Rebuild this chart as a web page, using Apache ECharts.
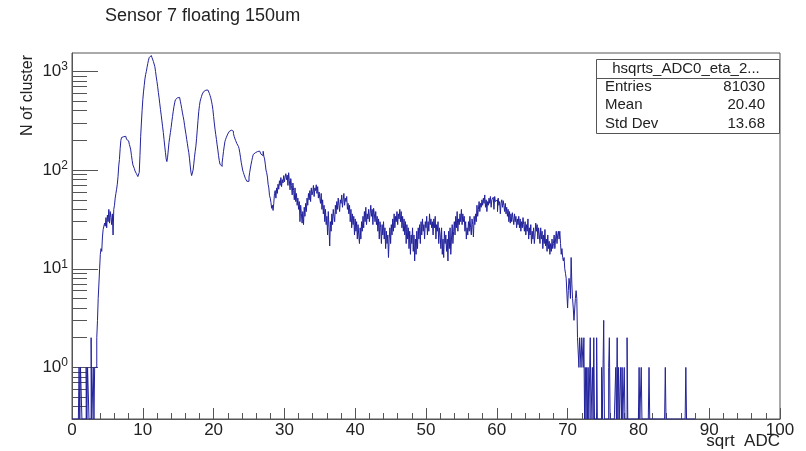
<!DOCTYPE html>
<html>
<head>
<meta charset="utf-8">
<script src="https://cdn.jsdelivr.net/npm/echarts@6/dist/echarts.min.js"></script>
<style>
html,body{margin:0;padding:0;background:#ffffff;}
#chart{width:806px;height:451px;}
</style>
</head>
<body>
<div id="chart"></div>
<script>
// ---- Histogram data (bin width 0.1 in sqrt ADC, starting at 0) ----
const BIN_START = 0;
const BIN_WIDTH = 0.1;

const counts_0_10 = [
  0,0,0,0,0,0,0,0,0,0,
  1,0,1,1,0,0,0,0,0,0,
  1,0,1,1,0,0,0,2,0,0,
  1,0,1,1,1,2,3,5,7,10,
  14,16,15,21,25,24,29,27,33,26,
  35,30,40,29,38,33,28,36,22,40,
  44,52,58,64,72,86,110,128,165,200,
  214,222,218,226,215,220,210,205,212,198,
  195,182,172,160,140,125,113,110,104,98,
  96,92,90,86,84,95,140,220,300,400
];
const counts_10_20 = [
  516,620,720,840,930,1000,1100,1200,1300,1380,
  1440,1450,1420,1380,1320,1260,1210,1120,1000,880,
  790,700,610,540,470,410,360,315,275,240,
  204,175,150,130,122,135,160,190,215,240,
  270,310,350,395,440,480,516,530,540,548,
  550,545,530,500,460,420,380,350,320,285,
  255,230,205,185,165,150,130,110,95,88,
  92,100,115,135,155,175,210,260,320,390,
  450,500,530,560,590,610,625,640,645,650,
  655,648,640,620,600,570,540,500,460,410
];
const counts_20_30 = [
  350,300,260,230,205,180,160,140,125,115,
  110,109,118,135,155,175,195,205,215,225,
  232,240,246,250,254,258,255,248,235,220,
  210,200,195,185,180,174,165,150,135,120,
  110,100,95,90,86,82,79,77,78,77,
  85,95,105,115,125,135,144,148,150,152,
  150,154,155,148,156,150,155,145,150,140,
  155,138,130,115,100,94,85,72,66,55,
  52,47,41,44,39,46,58,62,52,66,
  58,72,64,78,70,84,68,80,74,88
];
const counts_30_40 = [
  76,85,92,80,89,70,94,78,63,82,
  70,56,74,62,50,66,48,58,44,52,
  40,48,30,44,36,29,38,28,42,34,
  46,38,52,44,58,50,62,48,66,56,
  60,70,54,66,62,71,58,68,52,60,
  52,46,58,40,50,36,44,30,40,28,
  34,22,38,26,17,30,24,36,28,40,
  34,30,44,36,48,40,52,44,38,50,
  46,56,42,50,58,44,52,48,54,40,
  46,36,44,30,40,26,36,28,34,22
];
const counts_40_50 = [
  32,24,30,20,28,22,18,26,20,30,
  24,34,26,38,30,42,28,36,32,40,
  30,36,44,34,40,28,41,36,30,38,
  28,34,24,32,20,30,26,18,28,22,
  30,20,26,16,24,18,22,13,20,26,
  18,28,22,32,24,36,26,34,30,38,
  28,36,32,40,30,38,26,34,24,32,
  22,30,18,28,20,26,16,24,14,22,
  18,26,15,22,12,20,14,24,16,26,
  20,28,18,30,22,32,24,28,20,30
];
const counts_50_60 = [
  26,34,22,30,24,36,28,32,26,30,
  22,32,26,34,20,28,24,30,18,26,
  22,16,26,14,20,13,24,18,22,15,
  20,12,24,16,26,14,20,28,18,24,
  30,22,34,26,38,24,32,28,36,30,
  40,28,36,30,34,24,30,20,26,22,
  30,24,34,26,22,32,28,21,34,28,
  36,30,44,34,40,48,38,46,42,50,
  44,52,46,56,42,50,38,48,44,52,
  46,54,42,50,48,53,40,54,48,46
];
const counts_60_70 = [
  50,38,52,44,48,36,46,50,42,49,
  44,38,46,36,42,34,40,30,38,29,
  36,30,37,32,28,36,30,34,26,32,
  28,34,26,32,24,30,26,33,28,24,
  30,22,28,24,32,20,26,22,28,18,
  24,20,26,18,22,29,24,28,20,26,
  22,18,26,20,24,16,22,18,25,17,
  20,15,22,16,19,14,18,15,20,16,
  18,22,16,20,24,18,22,24,20,24,
  18,14,16,13,12,13,10,9,8,8
];
const counts_70_80 = [
  4,6,8,7,5,13,7,5,4,3,
  3,5,6,5,2,2,1,2,2,1,
  2,2,1,2,0,1,0,1,0,1,
  0,0,2,0,0,1,0,2,0,0,
  0,2,0,0,0,0,0,0,1,0,
  0,3,0,0,0,0,0,0,1,2,
  0,0,0,0,0,0,0,0,1,0,
  2,0,1,0,0,1,0,1,0,0,
  1,0,0,0,2,0,0,0,0,0,
  0,0,0,0,0,0,0,0,0,0
];
const counts_80_88 = [
  0,1,0,0,1,0,0,0,0,0,
  0,0,0,0,0,1,0,0,0,0,
  0,0,0,0,0,0,0,0,0,0,
  0,0,0,0,0,0,0,0,1,0,
  0,0,0,0,0,0,0,0,0,0,
  0,0,0,0,0,0,0,0,0,0,
  0,0,0,0,0,0,0,1,0,0,
  0,0,0,0,0,0,0,0,0,0
];

const statsLabels = ['Entries', 'Mean', 'Std Dev'];
const statsValues = ['81030', '20.40', '13.68'];
const histName = 'hsqrts_ADC0_eta_2...';
const titleText = 'Sensor 7 floating 150um';
const xTitle = 'sqrt  ADC';
const yTitle = 'N of cluster';

// ---- build ----
const Y_MIN = 0.3, Y_MAX = 1538;
const allCounts = [].concat(counts_0_10, counts_10_20, counts_20_30, counts_30_40,
  counts_40_50, counts_50_60, counts_60_70, counts_70_80, counts_80_88);
const lineData = allCounts.map((c, i) => [+(BIN_START + i * BIN_WIDTH).toFixed(2), c > 0 ? c : Y_MIN]);
lineData.push([+(BIN_START + allCounts.length * BIN_WIDTH).toFixed(2), Y_MIN]);

const minorLogs = [];
for (let d = -1; d <= 3; d++) {
  for (let k = 2; k <= 9; k++) {
    const v = k * Math.pow(10, d);
    if (v > Y_MIN && v < Y_MAX) minorLogs.push(Math.log10(v));
  }
}

const FONT = '"Liberation Sans", Arial, Helvetica, sans-serif';
const AX = '#555555';
const TXT = '#222222';

const chart = echarts.init(document.getElementById('chart'), null, {renderer: 'canvas'});
chart.setOption({
  animation: false,
  backgroundColor: '#ffffff',
  textStyle: {fontFamily: FONT},
  grid: {left: 72, right: 26, top: 53, bottom: 32, show: true, borderColor: AX, borderWidth: 1, backgroundColor: 'transparent'},
  xAxis: {
    type: 'value', min: 0, max: 100, interval: 10,
    axisLine: {show: true, onZero: false, lineStyle: {color: AX, width: 1}},
    axisTick: {show: true, inside: true, length: 11, lineStyle: {color: AX, width: 1}},
    minorTick: {show: true, splitNumber: 5, length: 6, lineStyle: {color: AX, width: 1}},
    splitLine: {show: false},
    axisLabel: {fontSize: 17, color: TXT, fontFamily: FONT, margin: 3}
  },
  yAxis: [
    {
      type: 'log', logBase: 10, min: Y_MIN, max: Y_MAX, position: 'left',
      axisLine: {show: true, onZero: false, lineStyle: {color: AX, width: 1}},
      axisTick: {show: true, inside: true, length: 26, lineStyle: {color: AX, width: 1}},
      splitLine: {show: false},
      minorTick: {show: false},
      axisLabel: {
        showMinLabel: false, showMaxLabel: false, margin: 4, color: TXT, fontFamily: FONT,
        formatter: v => '{b|10}{s|' + Math.round(Math.log10(v)) + '}',
        rich: {
          b: {fontSize: 17, color: TXT, fontFamily: FONT},
          s: {fontSize: 12, color: TXT, fontFamily: FONT, padding: [0, 0, 9, 0]}
        }
      }
    },
    {
      type: 'value', min: Math.log10(Y_MIN), max: Math.log10(Y_MAX), position: 'left', offset: 0,
      axisLine: {show: false, onZero: false},
      axisLabel: {show: false},
      splitLine: {show: false},
      axisTick: {show: true, inside: true, length: 15, customValues: minorLogs, lineStyle: {color: AX, width: 1}}
    }
  ],
  series: [{
    type: 'line', step: 'end', data: lineData, yAxisIndex: 0,
    showSymbol: false, symbol: 'none', clip: true,
    lineStyle: {color: '#22229c', width: 1},
    emphasis: {disabled: true}
  }],
  graphic: [
    {type: 'text', left: 105, top: 7, style: {text: titleText, fill: TXT, font: '18px ' + FONT}},
    {type: 'text', x: 28, y: 55, rotation: Math.PI / 2,
      style: {text: yTitle, fill: TXT, font: '16px ' + FONT, align: 'right', verticalAlign: 'middle'}},
    {type: 'text', x: 780, y: 441,
      style: {text: xTitle, fill: TXT, font: '17px ' + FONT, align: 'right', verticalAlign: 'middle'}},
    {type: 'rect', shape: {x: 596.5, y: 59.5, width: 183, height: 74},
      style: {fill: '#ffffff', stroke: AX, lineWidth: 1}, z: 100},
    {type: 'line', shape: {x1: 596.5, y1: 78.5, x2: 779.5, y2: 78.5}, style: {stroke: AX, lineWidth: 1}, z: 101},
    {type: 'text', x: 686, y: 69, z: 102,
      style: {text: histName, fill: TXT, font: '15px ' + FONT, align: 'center', verticalAlign: 'middle'}},
    ...statsLabels.map((t, i) => ({type: 'text', x: 605, y: 87 + i * 18.3, z: 102,
      style: {text: t, fill: TXT, font: '15px ' + FONT, align: 'left', verticalAlign: 'middle'}})),
    ...statsValues.map((t, i) => ({type: 'text', x: 765, y: 87 + i * 18.3, z: 102,
      style: {text: t, fill: TXT, font: '15px ' + FONT, align: 'right', verticalAlign: 'middle'}}))
  ]
});
</script>
</body>
</html>
